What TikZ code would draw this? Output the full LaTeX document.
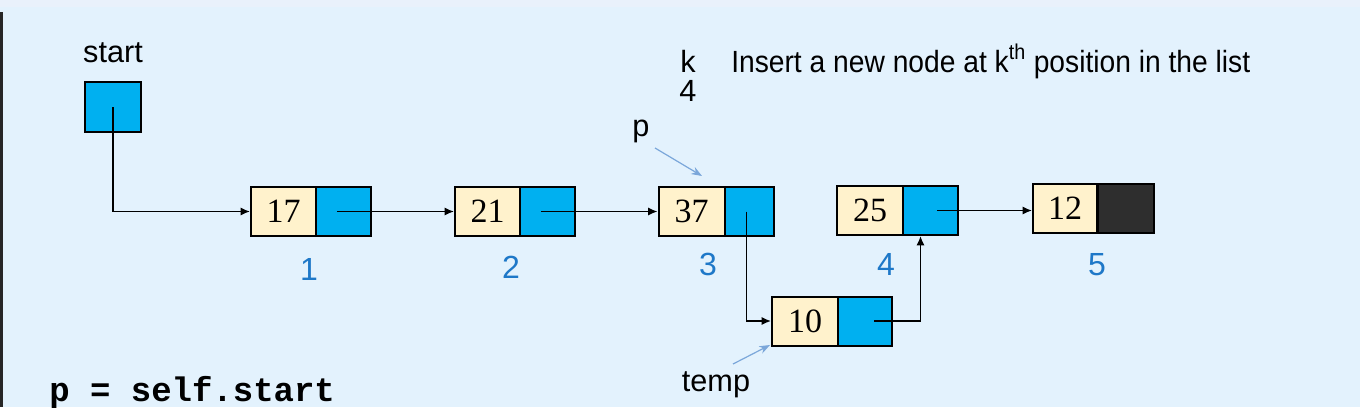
\documentclass[tikz,border=0pt]{standalone}
\usepackage{fontspec}
\setmainfont{Liberation Sans}
\newfontfamily\numfont{Liberation Serif}
\newfontfamily\codefont{Liberation Mono}
\usetikzlibrary{arrows.meta}
\definecolor{bgc}{HTML}{E3F2FD}
\definecolor{topc}{HTML}{E9F1FB}
\definecolor{beige}{HTML}{FFF2CC}
\definecolor{cyanc}{HTML}{00B0F0}
\definecolor{idxblue}{HTML}{1E78C8}
\definecolor{ptrblue}{HTML}{7BA7DA}
\begin{document}
\begin{tikzpicture}[x=0.75pt,y=-0.75pt,
  cell/.style={draw=black,line width=1.5pt,inner sep=0pt,minimum height=49*0.75pt},
  datacell/.style={cell,fill=beige,font=\numfont\fontsize{25.5}{25.5}\selectfont},
  ptrcell/.style={cell,fill=cyanc},
  nullcell/.style={cell,fill=black!82},
  link/.style={line width=1.1pt,-{Latex[length=7pt,width=6pt]}},
  ptrarrow/.style={draw=ptrblue,line width=0.9pt,-{Stealth[length=8pt,width=6pt]}},
  lbl/.style={inner sep=0pt,font=\fontsize{23}{23}\selectfont},
  idx/.style={inner sep=0pt,text=idxblue,font=\fontsize{24}{24}\selectfont},
  codetxt/.style={inner sep=0pt,font=\codefont\bfseries\fontsize{25.5}{25.5}\selectfont}]
\fill[bgc] (0,0) rectangle (1360,407);
\fill[topc] (0,0) rectangle (1360,7);
\useasboundingbox (0,0) rectangle (1360,407);
\fill[black!85] (0,12) rectangle (3,407);

% start pointer
\node[lbl,anchor=base] (startlbl) at (113,62) {start};
\node[ptrcell,minimum width=56*0.75pt,minimum height=50*0.75pt] (sbox) at (113,107) {};

% list nodes
\node[datacell,minimum width=65*0.75pt] (n1d) at (283.5,211.5) {17};
\node[ptrcell,minimum width=55*0.75pt] (n1p) at (343.5,211.5) {};
\node[datacell,minimum width=65*0.75pt] (n2d) at (487.5,211.5) {21};
\node[ptrcell,minimum width=55*0.75pt] (n2p) at (547.5,211.5) {};
\node[datacell,minimum width=66*0.75pt] (n3d) at (691.5,211.5) {37};
\node[ptrcell,minimum width=49*0.75pt] (n3p) at (749,211.5) {};
\node[datacell,minimum width=66*0.75pt] (n4d) at (870,210.5) {25};
\node[ptrcell,minimum width=55*0.75pt] (n4p) at (930.5,210.5) {};
\node[datacell,minimum width=64*0.75pt] (n5d) at (1065,208.5) {12};
\node[nullcell,minimum width=56*0.75pt] (n5p) at (1125.5,208.5) {};
\node[datacell,minimum width=66*0.75pt] (td) at (805,321) {10};
\node[ptrcell,minimum width=54*0.75pt] (tp) at (865,321) {};

% indices
\node[idx,anchor=base] (i1) at (309,280) {1};
\node[idx,anchor=base] (i2) at (511,278) {2};
\node[idx,anchor=base] (i3) at (708,275) {3};
\node[idx,anchor=base] (i4) at (886,275) {4};
\node[idx,anchor=base] (i5) at (1097,275) {5};

% texts
\node[lbl,anchor=base] (klbl) at (688,72) {k};
\node[lbl,anchor=base] (kval) at (688,101) {4};
\node[lbl,anchor=base west] (insert) at (731,72) {\scalebox{0.92}[1]{Insert a new node at k\textsuperscript{th} position in the list}};
\node[lbl,anchor=base] (plbl) at (641,136) {p};
\node[lbl,anchor=base] (templbl) at (716,391) {temp};
\node[codetxt,anchor=base west] (code) at (49,401) {p = self.start};

% links
\draw[link] (sbox.center) |- (n1d.west);
\draw[link] ([xshift=-5pt]n1p.center) -- (n2d.west);
\draw[link] ([xshift=-5pt]n2p.center) -- (n3d.west);
\draw[link] ([xshift=-2pt]n3p.center) |- (td.west);
\draw[link] ([xshift=7pt]tp.center) -| ([xshift=-7.5pt]n4p.south);
\draw[link] ([xshift=5pt]n4p.center) -- (n4p.center -| n5d.west);

% pointer arrows
\coordinate (pa) at (655,148);
\coordinate (pb) at (702,176);
\draw[ptrarrow] (pa) -- (pb);
\coordinate (ta) at (733,364);
\coordinate (tb) at (770,345);
\draw[ptrarrow] (ta) -- (tb);
\end{tikzpicture}
\end{document}
